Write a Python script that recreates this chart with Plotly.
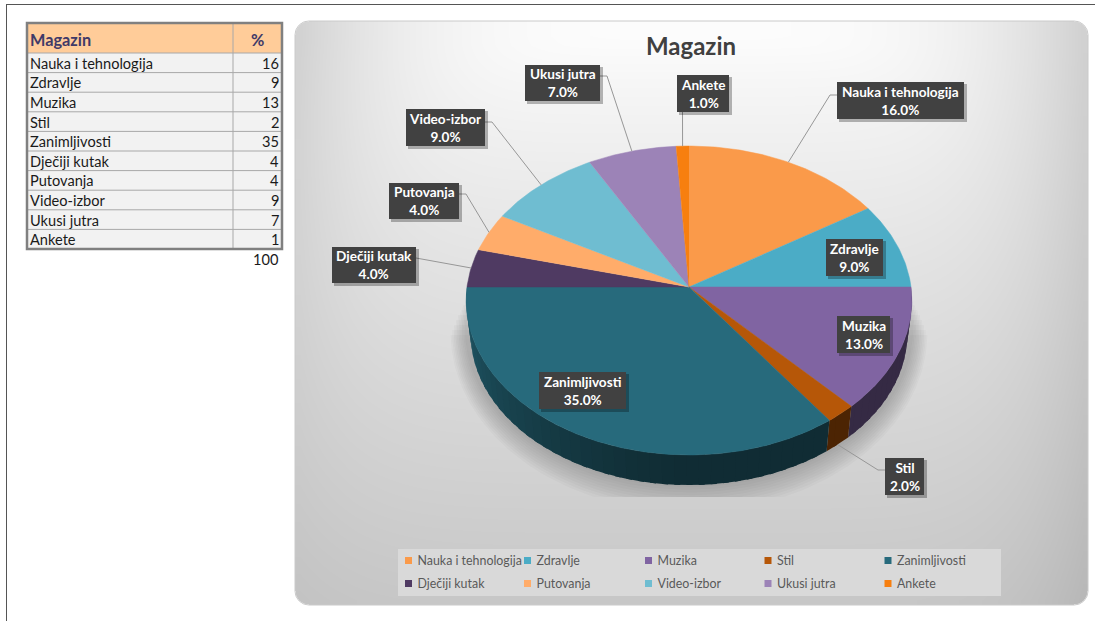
import math
import numpy as np
import plotly.graph_objects as go

# ---- data ----
categories = ["Nauka i tehnologija", "Zdravlje", "Muzika", "Stil", "Zanimljivosti",
              "Dječiji kutak", "Putovanja", "Video-izbor", "Ukusi jutra", "Ankete"]
values = [16, 9, 13, 2, 35, 4, 4, 9, 7, 1]
total_label = 100
title_text = "Magazin"
table_header = ["Magazin", "%"]

# ---- styles ----
colors = ["#FA9A4A", "#4BACC6", "#8064A2", "#B65708", "#276A7C",
          "#4F3A62", "#FFAC6A", "#6FBDD1", "#9C83B7", "#F77F0F"]
FONT = "Lato"
W, H = 1095, 621
CX, CY, RX, RY, K = 689, 287, 222, 153.3, 0.0874
WALL_SCALE, WALL_DY = 0.98, 33.5
PANEL = (295, 21, 1088, 605, 14)

# label boxes: x0, y0, x1, y1
boxes = [(837, 82, 964, 119), (826, 239, 883, 276), (837, 316, 890, 353), (885, 458, 924, 495),
         (539, 372, 626, 409), (332, 247, 416, 283), (389, 183, 459, 219), (406, 109, 485, 146),
         (525, 65, 600, 101), (677, 75, 729, 112)]
# leader lines: box-side points, empty for none
leaders = [[(837, 95), (830, 95)], [], [], [(885, 470), (878, 470)], [],
           [(416, 258)], [(459, 194), (466, 194)], [(485, 122), (492, 122)],
           [(600, 76), (607, 76)], [(682.5, 112)]]


def proj(f, scale=1.0, dy=0.0):
    t = 2 * math.pi * f
    u, v = math.sin(t), math.cos(t)
    s = 1 / (1 + K * v)
    return CX + RX * u * s * scale, CY + dy - RY * v * s * scale


def frange(a, b, step=0.002):
    n = max(2, int(abs(b - a) / step) + 1)
    return [a + (b - a) * i / (n - 1) for i in range(n)]


def poly(xs, ys, color, line=0.6):
    return go.Scatter(x=xs, y=ys, mode="lines", fill="toself", fillcolor=color,
                      line=dict(color=color, width=line), hoverinfo="skip", showlegend=False)


def rgb(h):
    return tuple(int(h[i:i + 2], 16) for i in (1, 3, 5))


fig = go.Figure()

# panel gradient
px0, py0, px1, py1, pr = PANEL
gx = np.linspace(px0, px1, 81)
gy = np.linspace(py0, py1, 61)
mx = (gx[:-1] + gx[1:]) / 2
my = (gy[:-1] + gy[1:]) / 2
XX, YY = np.meshgrid(mx, my)
DX = XX - 690
TY = np.clip((YY - 40) / 560, 0, None)
AX = 46 * (np.abs(DX) / 400) ** 3.26
AX = np.where(DX < 0, AX * (1 - 0.5 * TY), AX)
BY = 53 * TY ** 0.85
zz = 252 - np.sqrt(AX ** 2 + BY ** 2)
fig.add_trace(go.Heatmap(x=gx, y=gy, z=zz, zmin=0, zmax=255, zsmooth="best", showscale=False,
                         colorscale=[[0, "#000000"], [1, "#ffffff"]], hoverinfo="skip"))

# rounded corners
corners = [(px0 + pr, py0 + pr, 180), (px1 - pr, py0 + pr, 270),
           (px1 - pr, py1 - pr, 0), (px0 + pr, py1 - pr, 90)]
for (ccx, ccy, a0) in corners:
    angs = np.radians(np.linspace(a0, a0 + 90, 16))
    ax = list(ccx + pr * np.cos(angs))
    ay = list(ccy + pr * np.sin(angs))
    mid = math.radians(a0 + 45)
    cornerx = ccx + (pr + 2) * (1 if math.cos(mid) > 0 else -1)
    cornery = ccy + (pr + 2) * (1 if math.sin(mid) > 0 else -1)
    fig.add_trace(poly(ax + [cornerx], ay + [cornery], "#ffffff", 1))
rim_x, rim_y = [], []
for (ccx, ccy, a0) in corners:
    angs = np.radians(np.linspace(a0, a0 + 90, 16))
    rim_x += list(ccx + pr * np.cos(angs))
    rim_y += list(ccy + pr * np.sin(angs))
fig.add_trace(go.Scatter(x=rim_x + rim_x[:1], y=rim_y + rim_y[:1], mode="lines",
                         line=dict(color="#cacaca", width=1), hoverinfo="skip", showlegend=False))

# soft shadow below the pie, cut off at the bottom like the reference
for i in range(10):
    gxr = 1 + i * 1.6
    gyr = 2 + i * 2.6
    sx, sy = [], []
    for f in frange(0.0, 1.0, 0.004):
        x, y = proj(f, 1.0, 30)
        x = CX + (x - CX) * (1 + gxr / RX)
        y = CY + 30 + (y - CY - 30) * (1 + gyr / 160)
        sx.append(x)
        sy.append(min(497, max(290 + i * 5, y)))
    fig.add_trace(go.Scatter(x=sx, y=sy, mode="lines", fill="toself", fillcolor="rgba(60,60,60,0.03)",
                             line=dict(width=0), hoverinfo="skip", showlegend=False))

# slices
cum = [0]
for v in values:
    cum.append(cum[-1] + v)
tot = sum(values)
fr = [c / tot for c in cum]

# side wall
for i, col in enumerate(colors):
    a, b = max(fr[i], 0.25), min(fr[i + 1], 0.75)
    if a >= b:
        continue
    n = max(1, int((b - a) / 0.008))
    r, g, bl = rgb(col)
    for j in reversed(range(n)):
        f0 = a + (b - a) * j / n
        f1 = a + (b - a) * (j + 1) / n
        fm = (f0 + f1) / 2
        fac = 0.42 + (0.43 * ((fm - 0.5) / 0.25) ** 1.2 if fm > 0.5 else 0)
        c = "#%02x%02x%02x" % (int(r * fac), int(g * fac), int(bl * fac))
        f1x = min(b, f1 + 0.004)
        top = [proj(f) for f in frange(f0, f1x)]
        low = [proj(f, WALL_SCALE, WALL_DY) for f in frange(f1x, f0)]
        pts = top + low
        fig.add_trace(poly([p[0] for p in pts], [p[1] for p in pts], c, 0))

# top faces
for i, col in enumerate(colors):
    pts = [(CX, CY)] + [proj(f) for f in frange(fr[i], fr[i + 1])]
    fig.add_trace(poly([p[0] for p in pts], [p[1] for p in pts], col, 0.5))

# leader lines
for i, pts in enumerate(leaders):
    if not pts:
        continue
    fm = (fr[i] + fr[i + 1]) / 2
    end = proj(fm, WALL_SCALE, WALL_DY) if categories[i] == "Stil" else proj(fm)
    seq = pts + [end]
    fig.add_trace(go.Scatter(x=[p[0] for p in seq], y=[p[1] for p in seq], mode="lines",
                             line=dict(color="#979797", width=1), hoverinfo="skip", showlegend=False))

# legend panel and entries
fig.add_trace(poly([398, 1001, 1001, 398], [549, 549, 596, 596], "#D9D9D9", 0))
leg_cols = [408.5, 527.5, 648.5, 768, 888]
leg_rows = [560.5, 583.5]
lx = [leg_cols[i % 5] for i in range(len(categories))]
ly = [leg_rows[i // 5] for i in range(len(categories))]
fig.add_trace(go.Scatter(x=lx, y=ly, mode="markers",
                         marker=dict(symbol="square", size=7, color=colors, line=dict(width=0)),
                         hoverinfo="skip", showlegend=False))
fig.add_trace(go.Scatter(x=[v + 9 for v in lx], y=[v + 1 for v in ly], mode="text", text=categories,
                         textposition="middle right",
                         textfont=dict(family=FONT, size=12.4, color="#595959"),
                         hoverinfo="skip", showlegend=False))

# table
T_X0, T_SPLIT, T_X1, T_Y0, T_HEAD, T_ROW = 27, 233, 282, 23, 30, 19.6
n_rows = len(categories)
t_y = [T_Y0 + T_HEAD + T_ROW * i for i in range(n_rows + 1)]
fig.add_trace(poly([T_X0, T_X1, T_X1, T_X0], [T_Y0, T_Y0, t_y[0], t_y[0]], "#FFCC99", 0))
fig.add_trace(poly([T_X0, T_X1, T_X1, T_X0], [t_y[0], t_y[0], t_y[-1], t_y[-1]], "#F2F2F2", 0))
grid_x, grid_y = [T_SPLIT, T_SPLIT, None], [T_Y0, t_y[-1], None]
for y in t_y[:-1]:
    grid_x += [T_X0, T_X1, None]
    grid_y += [y, y, None]
fig.add_trace(go.Scatter(x=grid_x, y=grid_y, mode="lines", line=dict(color="#a8a8a8", width=1),
                         hoverinfo="skip", showlegend=False))

shapes = [
    dict(type="line", xref="x", yref="y", x0=6, x1=W, y0=4.5, y1=4.5, line=dict(color="#555555", width=1)),
    dict(type="line", xref="x", yref="y", x0=6.5, x1=6.5, y0=4, y1=H, line=dict(color="#555555", width=1)),
]
annotations = []


def cell(x, y, text, anchor, size=14.6, color="#1a1a1a"):
    annotations.append(dict(xref="x", yref="y", x=x, y=y, xanchor=anchor, yanchor="middle", showarrow=False,
                            text=text, font=dict(family=FONT, size=size, color=color)))


cell(28, T_Y0 + T_HEAD / 2 + 1, "<b>%s</b>" % table_header[0], "left", 16.3, "#3F3A68")
cell((T_SPLIT + T_X1) / 2, T_Y0 + T_HEAD / 2 + 1, "<b>%s</b>" % table_header[1], "center", 16.3, "#3F3A68")
for i, (c, v) in enumerate(zip(categories, values)):
    cy = t_y[i] + T_ROW / 2 + 0.5
    cell(28, cy, c, "left")
    cell(281, cy, str(v), "right")
cell(281, 259, str(total_label), "right")

# label boxes
for i, (x0, y0, x1, y1) in enumerate(boxes):
    shapes.append(dict(type="rect", xref="x", yref="y", x0=x0 + 2, y0=y0 + 2, x1=x1 + 3, y1=y1 + 3,
                       fillcolor="rgba(0,0,0,0.28)", line=dict(width=0), layer="above"))
    shapes.append(dict(type="rect", xref="x", yref="y", x0=x0, y0=y0, x1=x1, y1=y1,
                       fillcolor="#414141", line=dict(width=0), layer="above"))
    pct = values[i] / tot * 100
    annotations.append(dict(xref="x", yref="y", x=(x0 + x1) / 2, y=(y0 + y1) / 2, showarrow=False,
                            text="<b>%s<br>%.1f%%</b>" % (categories[i], pct), align="center",
                            font=dict(family=FONT, size=13.6, color="#ffffff")))
shapes.append(dict(type="rect", xref="x", yref="y", x0=T_X0, y0=T_Y0, x1=T_X1, y1=t_y[-1],
                   line=dict(color="#808080", width=2.5), layer="above"))

fig.update_layout(
    width=W, height=H, margin=dict(l=0, r=0, t=0, b=0), autosize=False,
    paper_bgcolor="#ffffff", plot_bgcolor="rgba(0,0,0,0)", showlegend=False,
    title=dict(text="<b>%s</b>" % title_text, x=691 / W, y=1 - 47 / H, xanchor="center", yanchor="middle",
               xref="paper", yref="paper", font=dict(family=FONT, size=24, color="#404040")),
    xaxis=dict(range=[0, W], visible=False, fixedrange=True, domain=[0, 1]),
    yaxis=dict(range=[H, 0], visible=False, fixedrange=True, domain=[0, 1]),
    shapes=shapes, annotations=annotations,
)
fig.write_html("out.html", config={"displayModeBar": False},
               post_script="document.body.style.margin='0';document.body.style.overflow='hidden';")
